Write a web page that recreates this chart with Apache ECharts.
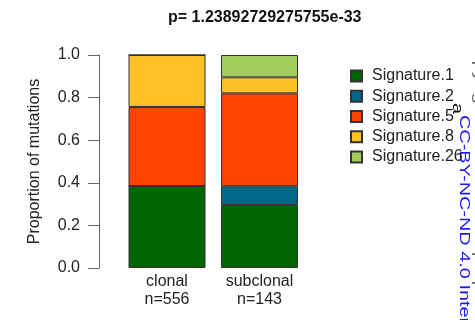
<!DOCTYPE html>
<html>
<head>
<meta charset="utf-8">
<script src="https://cdn.jsdelivr.net/npm/echarts@6/dist/echarts.min.js"></script>
<style>
  html, body { margin: 0; padding: 0; background: #fff; }
  #chart { width: 475px; height: 320px; }
</style>
</head>
<body>
<div id="chart"></div>
<script>
// Mutation signature proportions, clonal vs subclonal
const categories = ['clonal\nn=556', 'subclonal\nn=143'];
const signatureNames = ['Signature.1', 'Signature.2', 'Signature.5', 'Signature.8', 'Signature.26'];
const signature1 = [0.385, 0.296];
const signature2 = [0.0, 0.088];
const signature5 = [0.371, 0.436];
const signature8 = [0.244, 0.075];
const signature26 = [0.0, 0.105];
const yTicks = [0.0, 0.2, 0.4, 0.6, 0.8, 1.0];
const pValueTitle = 'p= 1.23892729275755e-33';

const seriesValues = [signature1, signature2, signature5, signature8, signature26];
const colors = ['#006400', '#00688B', '#FF4500', '#FFC125', '#A2CD5A'];
const font = '"Liberation Sans", Arial, Helvetica, sans-serif';

const chart = echarts.init(document.getElementById('chart'));
chart.setOption({
  animation: false,
  textStyle: { fontFamily: font },
  title: {
    text: pValueTitle,
    left: 163,
    top: 5,
    textStyle: { fontSize: 16, fontWeight: 'bold', color: '#111', fontFamily: font }
  },
  legend: {
    orient: 'vertical',
    left: 345,
    top: 63,
    itemWidth: 11,
    itemHeight: 11,
    itemGap: 4.25,
    icon: 'rect',
    data: signatureNames,
    textStyle: { fontSize: 16, lineHeight: 16, color: '#222', fontFamily: font, padding: [0, 0, 0, 5] }
  },
  grid: { left: 120.75, width: 185, top: 55, bottom: 52 },
  xAxis: {
    type: 'category',
    data: categories,
    axisLine: { show: false },
    axisTick: { show: false },
    axisLabel: { fontSize: 16, color: '#222', lineHeight: 18, margin: 5, fontFamily: font }
  },
  yAxis: {
    type: 'value',
    min: 0,
    max: 1,
    interval: 0.2,
    offset: 21.75,
    name: 'Proportion of mutations',
    nameLocation: 'middle',
    nameGap: 56,
    nameTextStyle: { fontSize: 16, color: '#222', fontFamily: font },
    axisLine: { show: true, lineStyle: { color: '#666', width: 1 } },
    axisTick: { show: true, length: 11, lineStyle: { color: '#666' } },
    splitLine: { show: false },
    axisLabel: {
      fontSize: 16, color: '#222', margin: 19, fontFamily: font,
      formatter: v => yTicks.find(t => Math.abs(t - v) < 1e-9).toFixed(1)
    }
  },
  series: signatureNames.map((name, i) => ({
    name: name,
    type: 'bar',
    stack: 'total',
    barWidth: 77,
    data: seriesValues[i],
    itemStyle: { color: colors[i], borderColor: '#333', borderWidth: 1 }
  })),
  graphic: [
    {
      type: 'text', x: 450, y: 103, rotation: -Math.PI / 2, scaleX: 1.42,
      style: { text: 'a', fill: '#111', font: '14px ' + font, textVerticalAlign: 'bottom' }
    },
    {
      type: 'text', x: 457, y: 115, rotation: -Math.PI / 2, scaleX: 1.42,
      style: { text: 'CC-BY-NC-ND 4.0 International license', fill: '#1a1aff', font: '14px ' + font, textVerticalAlign: 'bottom' }
    },
    {
      type: 'text', x: 472, y: 0, rotation: -Math.PI / 2, scaleX: 1.42,
      style: { text: 'The copyright holder for this preprint (which was not certified by peer review)', fill: '#666', font: '14px ' + font, textVerticalAlign: 'bottom' }
    }
  ]
});
</script>
</body>
</html>
